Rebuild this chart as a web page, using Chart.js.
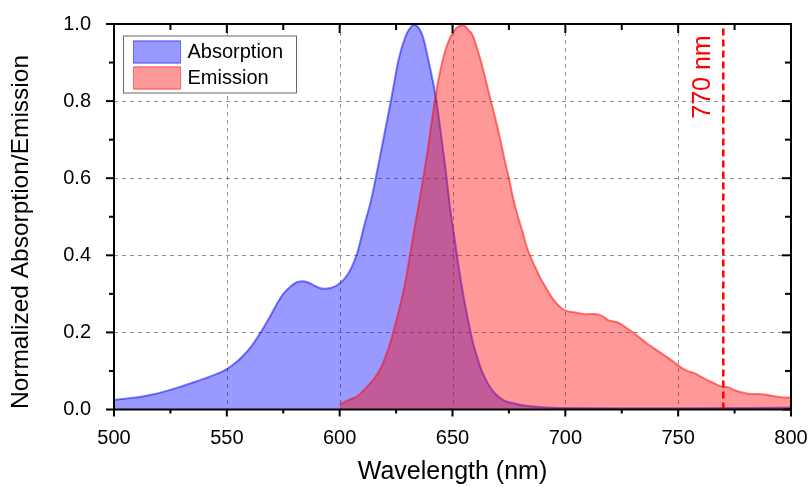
<!DOCTYPE html>
<html>
<head>
<meta charset="utf-8">
<script src="https://cdn.jsdelivr.net/npm/chart.js@4.4.0/dist/chart.umd.min.js"></script>
<style>
html, body { margin: 0; padding: 0; background: #fff; }
</style>
</head>
<body>
<canvas id="mycanvas" width="810" height="487"></canvas>
<script>
// absorption spectrum (nm, normalized)
var absWavelength = [500,505,512,518,525,530,535,540,545,550,554,557,561,565,569,572,575,578,581,584,587,590,593,596,599,602,605,608,611,614,617,620,623,626,629,631,633,635,637,639,641,643,645,647,649,651,653,655,657,659,661,663,665,667,670,673,677,681,686,692,700,720,750,780,800];
var absValue = [0.025,0.028,0.033,0.040,0.051,0.060,0.070,0.080,0.091,0.105,0.122,0.138,0.165,0.200,0.240,0.272,0.300,0.318,0.330,0.333,0.327,0.318,0.313,0.315,0.323,0.338,0.365,0.410,0.480,0.545,0.630,0.720,0.810,0.905,0.965,0.988,0.998,0.990,0.965,0.915,0.860,0.796,0.710,0.620,0.520,0.440,0.360,0.290,0.230,0.175,0.135,0.100,0.075,0.055,0.035,0.023,0.016,0.011,0.008,0.005,0.004,0.003,0.003,0.004,0.005];

// emission spectrum (nm, normalized)
var emWavelength = [600,604,608,611,615,618,621,623,625,627,629,631,633,635,637,639,641,643,645,647,649,651,653,655,657,659,661,663,665,667,669,671,673,675,677,679,681,683,685,687,689,691,693,695,697,700,703,706,709,712,715,717,719,721,724,727,730,733,736,740,744,748,751,754,757,760,763,766,769,772,775,778,781,785,789,792,796,800];
var emValue = [0.012,0.025,0.035,0.052,0.078,0.105,0.148,0.185,0.228,0.275,0.328,0.395,0.465,0.530,0.600,0.672,0.755,0.830,0.890,0.935,0.965,0.985,0.995,0.997,0.985,0.970,0.935,0.895,0.848,0.800,0.755,0.705,0.650,0.600,0.545,0.500,0.462,0.420,0.390,0.365,0.340,0.320,0.300,0.283,0.270,0.257,0.253,0.250,0.247,0.248,0.246,0.240,0.232,0.229,0.224,0.212,0.200,0.186,0.172,0.156,0.140,0.124,0.110,0.100,0.095,0.085,0.076,0.068,0.060,0.058,0.050,0.045,0.041,0.040,0.038,0.035,0.032,0.031];

var seriesNames = ['Absorption', 'Emission'];
var xMin = 500, xMax = 800, xStep = 50;
var yMin = 0, yMax = 1, yStep = 0.2;
var markerNm = 770;
var markerLabel = '770 nm';
var xTitle = 'Wavelength (nm)';
var yTitle = 'Normalized Absorption/Emission';

var FONT = "'Liberation Sans', Arial, sans-serif";

function toPoints(xs, ys) {
	var pts = [];
	for (var i in xs) {
		pts.push({x: xs[i], y: ys[i]});
	}
	return pts;
}

// ticks as major values + midpoints as minor
function tickValues(scale) {
	var major = scale.ticks.map(function(t) { return t.value; });
	var minor = [];
	for (var i = 0; i < major.length - 1; i++) {
		minor.push((major[i] + major[i + 1]) / 2);
	}
	return {major: major, minor: minor};
}

var decorPlugin = {
	id: 'decor',
	beforeDatasetsDraw: function(chart) {
		var ctx = chart.ctx, a = chart.chartArea;
		var xs = chart.scales.x, ys = chart.scales.y;
		ctx.save();
		ctx.strokeStyle = 'rgba(0,0,0,0.42)';
		ctx.lineWidth = 1;
		ctx.setLineDash([4, 4]);
		tickValues(xs).major.forEach(function(v) {
			if (v <= xMin || v >= xMax) return;
			var px = Math.round(xs.getPixelForValue(v)) + 0.5;
			ctx.beginPath(); ctx.moveTo(px, a.top); ctx.lineTo(px, a.bottom); ctx.stroke();
		});
		tickValues(ys).major.forEach(function(v) {
			if (v <= yMin || v >= yMax) return;
			var py = Math.round(ys.getPixelForValue(v)) + 0.5;
			ctx.beginPath(); ctx.moveTo(a.left, py); ctx.lineTo(a.right, py); ctx.stroke();
		});
		ctx.restore();
	},
	afterDatasetsDraw: function(chart) {
		var ctx = chart.ctx, a = chart.chartArea;
		var xs = chart.scales.x, ys = chart.scales.y;

		// marker line
		var mx = xs.getPixelForValue(markerNm);
		ctx.save();
		ctx.strokeStyle = '#ff0000';
		ctx.lineWidth = 2.5;
		ctx.setLineDash([7, 4]);
		ctx.beginPath(); ctx.moveTo(mx, a.bottom); ctx.lineTo(mx, a.top); ctx.stroke();
		ctx.setLineDash([]);
		ctx.translate(mx - 13, a.top + 53);
		ctx.rotate(-Math.PI / 2);
		ctx.fillStyle = '#ff0000';
		ctx.font = '25px ' + FONT;
		ctx.textAlign = 'center';
		ctx.textBaseline = 'alphabetic';
		ctx.fillText(markerLabel, 0, 0);
		ctx.restore();

		// frame
		ctx.save();
		ctx.strokeStyle = '#000';
		ctx.lineWidth = 2;
		ctx.strokeRect(a.left, a.top, a.right - a.left, a.bottom - a.top);

		// tick marks: bottom/left outward, top/right inward
		var xt = tickValues(xs), yt = tickValues(ys);
		function xTick(v, len) {
			var px = xs.getPixelForValue(v);
			ctx.beginPath(); ctx.moveTo(px, a.bottom); ctx.lineTo(px, a.bottom + len); ctx.stroke();
			ctx.beginPath(); ctx.moveTo(px, a.top); ctx.lineTo(px, a.top + len + 2); ctx.stroke();
		}
		function yTick(v, len) {
			var py = ys.getPixelForValue(v);
			ctx.beginPath(); ctx.moveTo(a.left, py); ctx.lineTo(a.left - len - 1, py); ctx.stroke();
			ctx.beginPath(); ctx.moveTo(a.right, py); ctx.lineTo(a.right - len - 2, py); ctx.stroke();
		}
		xt.major.forEach(function(v) { xTick(v, 7); });
		xt.minor.forEach(function(v) { xTick(v, 4); });
		yt.major.forEach(function(v) { yTick(v, 7); });
		yt.minor.forEach(function(v) { yTick(v, 4); });
		ctx.restore();

		// legend box
		ctx.save();
		var lx = a.left + 9, ly = a.top + 11.5;
		ctx.fillStyle = '#fff';
		ctx.fillRect(lx, ly, 173, 57);
		ctx.strokeStyle = '#666';
		ctx.lineWidth = 1;
		ctx.strokeRect(lx + 0.5, ly + 0.5, 173, 57);
		ctx.font = '20px ' + FONT;
		ctx.textAlign = 'left';
		ctx.textBaseline = 'middle';
		chart.data.datasets.forEach(function(ds, i) {
			var sy = ly + 5 + i * 26;
			ctx.fillStyle = ds.backgroundColor;
			ctx.fillRect(lx + 10.5, sy, 47, 23);
			ctx.strokeStyle = ds.borderColor;
			ctx.strokeRect(lx + 10.5, sy + 0.5, 47, 22);
			ctx.fillStyle = '#000';
			ctx.fillText(ds.label, lx + 64.5, sy + 12);
		});
		ctx.restore();

		// y title
		ctx.save();
		ctx.translate(21.5, 232);
		ctx.rotate(-Math.PI / 2);
		ctx.fillStyle = '#000';
		ctx.font = '24.5px ' + FONT;
		ctx.textAlign = 'center';
		ctx.textBaseline = 'middle';
		ctx.fillText(yTitle, 0, 0);
		ctx.restore();
	}
};

var chartdata = {
	datasets: [
		{
			label: seriesNames[0],
			data: toPoints(absWavelength, absValue),
			backgroundColor: 'rgba(0,0,255,0.4)',
			borderColor: 'rgba(0,0,255,0.5)',
			borderWidth: 2,
			fill: 'origin',
			pointRadius: 0,
			cubicInterpolationMode: 'monotone',
			order: 2
		},
		{
			label: seriesNames[1],
			data: toPoints(emWavelength, emValue),
			backgroundColor: 'rgba(255,0,0,0.4)',
			borderColor: 'rgba(255,0,0,0.5)',
			borderWidth: 2,
			fill: 'origin',
			pointRadius: 0,
			cubicInterpolationMode: 'monotone',
			order: 1
		}
	]
};

var ctx = document.getElementById('mycanvas');
var lineChart = new Chart(ctx, {
	type: 'line',
	data: chartdata,
	plugins: [decorPlugin],
	options: {
		responsive: false,
		animation: false,
		devicePixelRatio: 1,
		layout: { padding: { left: 0, right: 19, top: 24, bottom: 0 } },
		plugins: {
			legend: { display: false },
			tooltip: { enabled: false }
		},
		scales: {
			x: {
				type: 'linear',
				min: xMin,
				max: xMax,
				grid: { display: false },
				border: { display: false },
				ticks: {
					stepSize: xStep,
					color: '#000',
					padding: 9,
					maxRotation: 0,
					font: { family: FONT, size: 20 }
				},
				title: {
					display: true,
					text: xTitle,
					color: '#000',
					padding: 0,
					font: { family: FONT, size: 25 }
				},
				afterFit: function(scale) {
					scale.height = 77.5;
					scale.paddingLeft = 0;
					scale.paddingRight = 0;
				}
			},
			y: {
				min: yMin,
				max: yMax,
				grid: { display: false },
				border: { display: false },
				ticks: {
					stepSize: yStep,
					color: '#000',
					padding: 15,
					font: { family: FONT, size: 20 },
					callback: function(v) { return v.toFixed(1); }
				},
				afterFit: function(scale) {
					scale.width = 114;
					scale.paddingTop = 0;
					scale.paddingBottom = 0;
				}
			}
		}
	}
});
</script>
</body>
</html>
